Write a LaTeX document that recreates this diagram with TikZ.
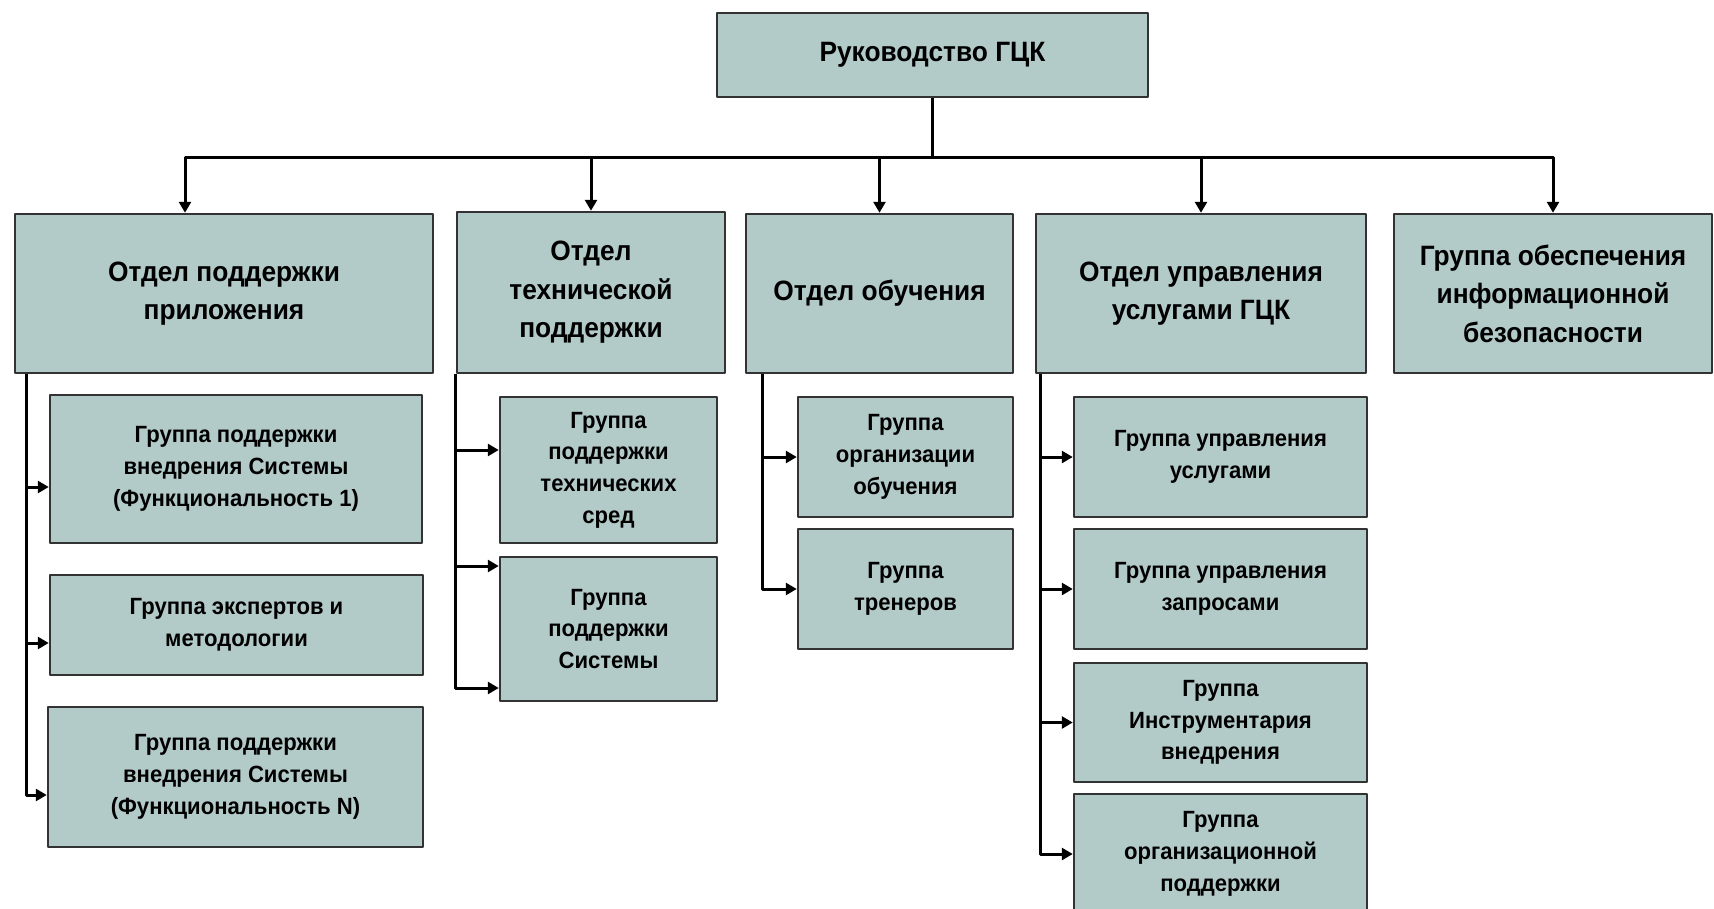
\documentclass[tikz,border=0pt]{standalone}
\usepackage{fontspec}
\setmainfont{Liberation Sans}[FakeStretch=0.94]
\usetikzlibrary{calc,arrows.meta}
\definecolor{boxfill}{RGB}{179,203,200}
\definecolor{boxline}{RGB}{51,51,51}

\begin{document}
\begin{tikzpicture}[x=1pt,y=-1pt,>={Triangle[length=11pt,width=12pt]},line join=round,
  box/.style={draw=boxline,fill=boxfill,line width=2.5pt,inner sep=0pt,align=center},
  dept/.style={box,font=\bfseries\fontsize{28}{38.5}\selectfont},
  grp/.style={box,font=\bfseries\fontsize{23.5}{31.7}\selectfont},
  link/.style={line width=3pt}]

  \useasboundingbox (0,0) rectangle (1714,908);

  % 1. Руководство
  \node[box,font=\bfseries\fontsize{28}{34}\selectfont,minimum width=431pt,minimum height=84pt] (top) at (932.5,55) {Руководство ГЦК};

  % 2. Отделы
  \node[dept,minimum width=418pt,minimum height=159pt] (app) at (224,293.5) {Отдел поддержки\\приложения};
  \node[dept,minimum width=268pt,minimum height=161pt] (tech) at (591,292.5) {Отдел\\технической\\поддержки};
  \node[dept,minimum width=267pt,minimum height=159pt] (edu) at (879.5,293.5) {Отдел обучения};
  \node[dept,minimum width=330pt,minimum height=159pt] (serv) at (1201,293.5) {Отдел управления\\услугами ГЦК};
  \node[dept,minimum width=318pt,minimum height=159pt] (sec) at (1553,293.5) {Группа обеспечения\\информационной\\безопасности};

  \coordinate (bus) at ($(top.south)+(0,59)$);
  \draw[link] (top.south) -- (bus);
  \draw[link,->] (bus) -| ($(app.north)+(-39,0)$);
  \foreach \n in {tech,edu,serv,sec}
    \draw[link,->] (bus) -| (\n.north);

  % 3. Группы отдела поддержки приложения
  \node[grp,minimum width=372pt,minimum height=148pt] (app1) at (236,469) {Группа поддержки\\внедрения Системы\\(Функциональность 1)};
  \node[grp,minimum width=373pt,minimum height=100pt] (app2) at (236.5,625) {Группа экспертов и\\методологии};
  \node[grp,minimum width=375pt,minimum height=140pt] (app3) at (235.5,777) {Группа поддержки\\внедрения Системы\\(Функциональность N)};
  \foreach \n in {app1,app2,app3}
    \draw[link,->] ($(app.south west)+(13,0)$) |- ([yshift=-18pt]\n.west);

  % 4. Группы технической поддержки
  \node[grp,minimum width=217pt,minimum height=146pt] (tech1) at (608.5,470) {Группа\\поддержки\\технических\\сред};
  \node[grp,minimum width=217pt,minimum height=144pt] (tech2) at (608.5,629) {Группа\\поддержки\\Системы};
  \draw[link,->] (tech.south west) |- ([yshift=20pt]tech1.west);
  \draw[link,->] (tech.south west) |- ([yshift=63pt]tech2.west);
  \draw[link,->] (tech.south west) |- ([yshift=-59pt]tech2.west);

  % 5. Группы отдела обучения
  \node[grp,minimum width=215pt,minimum height=120pt] (edu1) at (905.5,457) {Группа\\организации\\обучения};
  \node[grp,minimum width=215pt,minimum height=120pt] (edu2) at (905.5,589) {Группа\\тренеров};
  \foreach \n in {edu1,edu2}
    \draw[link,->] ($(edu.south west)+(18,0)$) |- (\n.west);

  % 6. Группы отдела управления услугами
  \node[grp,minimum width=293pt,minimum height=120pt] (serv1) at (1220.5,457) {Группа управления\\услугами};
  \node[grp,minimum width=293pt,minimum height=120pt] (serv2) at (1220.5,589) {Группа управления\\запросами};
  \node[grp,minimum width=293pt,minimum height=119pt] (serv3) at (1220.5,722.5) {Группа\\Инструментария\\внедрения};
  \node[grp,minimum width=293pt,minimum height=120pt] (serv4) at (1220.5,854) {Группа\\организационной\\поддержки};
  \foreach \n in {serv1,serv2,serv3,serv4}
    \draw[link,->] ($(serv.south west)+(6,0)$) |- (\n.west);

\end{tikzpicture}
\end{document}
